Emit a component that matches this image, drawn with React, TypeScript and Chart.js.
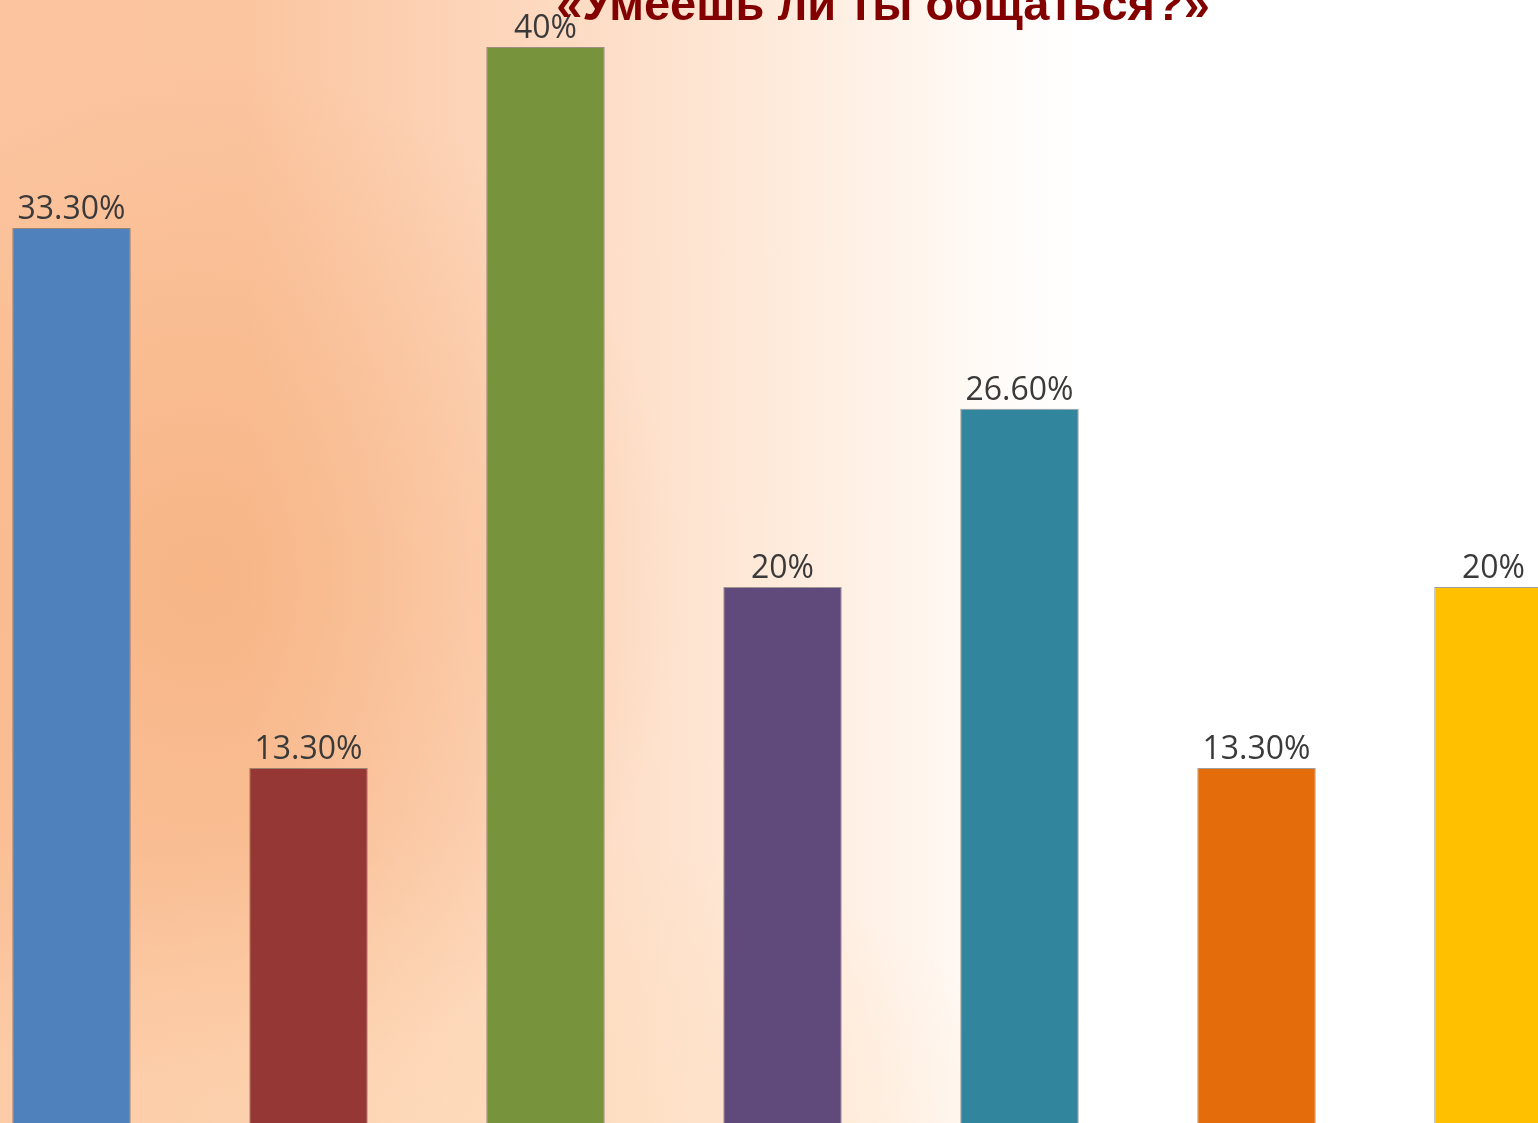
import React, { useEffect, useRef } from "react";
import { Chart, registerables } from "chart.js";

Chart.register(...registerables);

const TITLE = "«Умеешь ли ты общаться?»";
const categories = ["1", "2", "3", "4", "5", "6", "7"];
const values = [33.3, 13.3, 40, 20, 26.6, 13.3, 20];
const valueLabels = ["33.30%", "13.30%", "40%", "20%", "26.60%", "13.30%", "20%"];
const barColors = ["#4f81bd", "#953735", "#77933c", "#604a7b", "#31859c", "#e46c0a", "#ffc000"];

const CANVAS_W = 1659;
const CANVAS_H = 1160;
const OFFSET_X = -47;

export default function App() {
  const ref = useRef<HTMLCanvasElement | null>(null);

  useEffect(() => {
    if (!ref.current) return;
    const labelPlugin = {
      id: "valueLabels",
      afterDatasetsDraw(chart: any) {
        const ctx = chart.ctx;
        const meta = chart.getDatasetMeta(0);
        ctx.save();
        ctx.font = "32px 'Open Sans'";
        ctx.fillStyle = "#3a3a3a";
        ctx.textAlign = "center";
        ctx.textBaseline = "alphabetic";
        meta.data.forEach((bar: any, i: number) => {
          ctx.fillText(valueLabels[i], bar.x, bar.y - 9);
        });
        ctx.restore();
      },
    };
    const titlePlugin = {
      id: "topTitle",
      afterDraw(chart: any) {
        const ctx = chart.ctx;
        ctx.save();
        ctx.font = "bold 47px 'Liberation Sans'";
        ctx.fillStyle = "#820000";
        ctx.textAlign = "center";
        ctx.textBaseline = "alphabetic";
        ctx.fillText(TITLE, 883 - OFFSET_X, 20);
        ctx.restore();
      },
    };
    const chart = new Chart(ref.current, {
      type: "bar",
      data: {
        labels: categories,
        datasets: [
          {
            data: values,
            backgroundColor: barColors,
            borderColor: "rgba(80,80,80,0.55)",
            borderWidth: 1,
            categoryPercentage: 1,
            barPercentage: 0.5,
          },
        ],
      },
      options: {
        responsive: false,
        animation: false,
        devicePixelRatio: 1,
        layout: { padding: { top: 47, bottom: CANVAS_H - 1127, left: 0, right: 0 } },
        plugins: {
          legend: { display: false },
          tooltip: { enabled: false },
          title: { display: false },
        },
        scales: {
          x: { display: false },
          y: { display: false, min: 0, max: 40 },
        },
      },
      plugins: [labelPlugin, titlePlugin],
    });
    return () => chart.destroy();
  }, []);

  return (
    <div
      style={{
        position: "fixed",
        left: 0,
        top: 0,
        width: 1538,
        height: 1123,
        overflow: "hidden",
        background: [
          "radial-gradient(ellipse 480px 520px at 200px 580px, rgba(244,168,112,0.55) 0%, rgba(244,168,112,0.25) 55%, rgba(244,168,112,0) 100%)",
          "radial-gradient(ellipse 620px 300px at 420px 1123px, rgba(254,222,188,0.6) 0%, rgba(254,222,188,0.3) 60%, rgba(254,222,188,0) 100%)",
          "linear-gradient(to right, #fcc5a0 0px, #fbc5a0 250px, #fdd6bb 500px, #fee6d4 720px, #fff2e8 880px, #fffaf6 980px, #ffffff 1080px)",
        ].join(", "),
      }}
    >
      <canvas
        ref={ref}
        width={CANVAS_W}
        height={CANVAS_H}
        style={{ position: "absolute", left: OFFSET_X, top: 0, width: CANVAS_W, height: CANVAS_H }}
      />
    </div>
  );
}
